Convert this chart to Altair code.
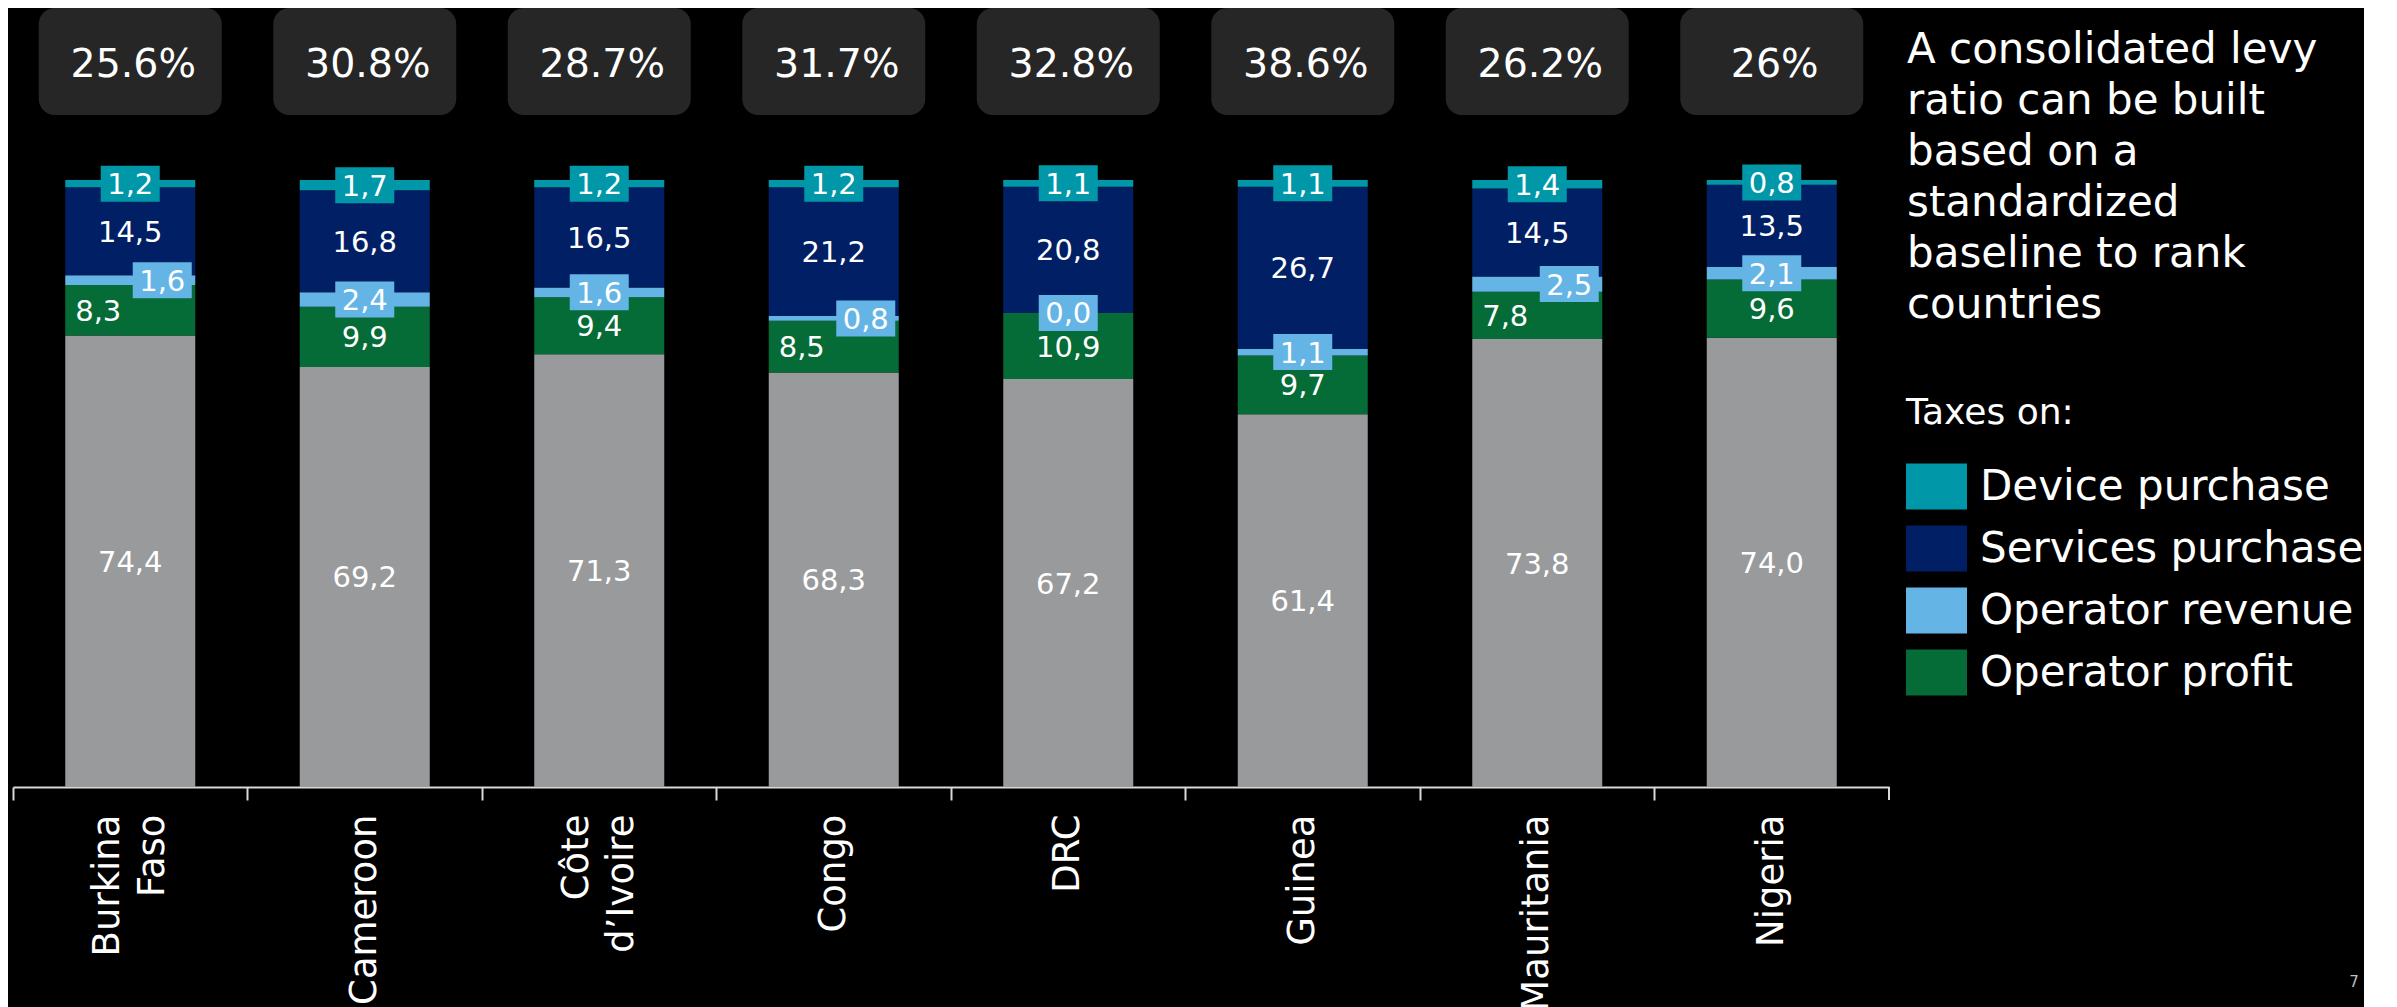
import altair as alt
import pandas as pd

# ---------------- data ----------------
COUNTRIES = ["Burkina Faso", "Cameroon", "Côte d’Ivoire", "Congo", "DRC", "Guinea", "Mauritania", "Nigeria"]
REST = [74.4, 69.2, 71.3, 68.3, 67.2, 61.4, 73.8, 74.0]
OPERATOR_PROFIT = [8.3, 9.9, 9.4, 8.5, 10.9, 9.7, 7.8, 9.6]
OPERATOR_REVENUE = [1.6, 2.4, 1.6, 0.8, 0.0, 1.1, 2.5, 2.1]
SERVICES_PURCHASE = [14.5, 16.8, 16.5, 21.2, 20.8, 26.7, 14.5, 13.5]
DEVICE_PURCHASE = [1.2, 1.7, 1.2, 1.2, 1.1, 1.1, 1.4, 0.8]
LEVY_RATIO = ["25.6%", "30.8%", "28.7%", "31.7%", "32.8%", "38.6%", "26.2%", "26%"]

SERIES = ["Rest", "Operator profit", "Operator revenue", "Services purchase", "Device purchase"]
SERIES_VALUES = [REST, OPERATOR_PROFIT, OPERATOR_REVENUE, SERVICES_PURCHASE, DEVICE_PURCHASE]
LEGEND_ORDER = ["Device purchase", "Services purchase", "Operator revenue", "Operator profit"]
BOXED_SERIES = ["Device purchase", "Operator revenue"]

PARAGRAPH = ["A consolidated levy", "ratio can be built", "based on a", "standardized",
             "baseline to rank", "countries"]
LEGEND_TITLE = "Taxes on:"
PAGE_NUMBER = "7"

# ---------------- styles ----------------
COLOR_MAP = {
    "Device purchase": "#0098A9",
    "Services purchase": "#001F65",
    "Operator revenue": "#64B5E6",
    "Operator profit": "#056B37",
    "Rest": "#999A9C",
}
# label nudges (direction: -1 left, +1 right)
NUDGE = {
    ("Burkina Faso", "Operator revenue"): 1, ("Burkina Faso", "Operator profit"): -1,
    ("Congo", "Operator revenue"): 1, ("Congo", "Operator profit"): -1,
    ("Mauritania", "Operator revenue"): 1, ("Mauritania", "Operator profit"): -1,
}
FONT = "DejaVu Sans"
PLOT_W = 1876
BAND = PLOT_W / len(COUNTRIES)
NUDGE_PX = 32
H = 778
YMAX = H / 6.07

rows = []
for i, c in enumerate(COUNTRIES):
    cum = 0.0
    for k, s in enumerate(SERIES):
        v = SERIES_VALUES[k][i]
        rows.append({
            "country": c, "series": s, "order": k,
            "y0": cum, "y1": cum + v, "mid": cum + v / 2,
            "label": f"{v:.1f}".replace(".", ","),
            "boxed": s in BOXED_SERIES,
            "nudge": NUDGE.get((c, s), 0),
        })
        cum += v
df = pd.DataFrame(rows)
df_top = pd.DataFrame({"country": COUNTRIES, "levy": LEVY_RATIO})

color_enc = alt.Color(
    "series:N",
    scale=alt.Scale(domain=list(COLOR_MAP.keys()), range=list(COLOR_MAP.values())),
    legend=alt.Legend(
        orient="none", legendX=1893, legendY=387, title=LEGEND_TITLE,
        titleFontSize=36, titleColor="#FFFFFF", titleFont=FONT, titleFontWeight="normal",
        titlePadding=24, labelFontSize=42, labelColor="#FFFFFF", labelFont=FONT,
        symbolType="M-1,-0.754H1V0.754H-1Z", symbolSize=3721, symbolStrokeWidth=0,
        symbolOpacity=1, labelOffset=13, rowPadding=8, values=LEGEND_ORDER,
        padding=0, labelLimit=0,
    ),
)

x_scale = alt.Scale(domain=COUNTRIES, range=[0, PLOT_W], paddingInner=0, paddingOuter=0)
x_axis = alt.Axis(
    title=None, bandPosition=0, labelAngle=-90, labelAlign="right", labelBaseline="middle",
    labelFontSize=37, labelFont=FONT, labelColor="#FFFFFF", labelLineHeight=45,
    labelPadding=14, tickSize=13, tickColor="#D9D9D9", tickWidth=2,
    domainColor="#D9D9D9", domainWidth=2, labelExpr="split(datum.label, ' ')",
    labelOffset={"condition": {"test": "indexof(datum.label, ' ') >= 0", "value": -22}, "value": 0},
    labelLimit=0, labelOverlap=False, grid=False,
)
y_scale = alt.Scale(domain=[0, YMAX], nice=False, zero=True)

base = alt.Chart(df)

bars = base.mark_bar(width=130).encode(
    x=alt.X("country:N", sort=COUNTRIES, scale=x_scale, axis=x_axis),
    y=alt.Y("y0:Q", scale=y_scale, axis=None),
    y2="y1:Q",
    color=color_enc,
)

layers = [bars]
for n in (-1, 0, 1):
    bp = 0.5 + n * NUDGE_PX / BAND
    sub = base.transform_filter(alt.datum.nudge == n)
    boxes = sub.transform_filter(alt.datum.boxed).mark_point(
        shape="M-1,-0.61H1V0.61H-1Z", size=3481, filled=True, opacity=1, strokeWidth=0
    ).encode(
        x=alt.X("country:N", sort=COUNTRIES, scale=x_scale, bandPosition=bp),
        y=alt.Y("mid:Q", scale=y_scale),
        color=color_enc,
    )
    texts = sub.mark_text(
        font=FONT, fontSize=29, color="#FFFFFF", baseline="alphabetic", align="center", dy=10.5
    ).encode(
        x=alt.X("country:N", sort=COUNTRIES, scale=x_scale, bandPosition=bp),
        y=alt.Y("mid:Q", scale=y_scale),
        text="label:N",
    )
    layers += [boxes, texts]

top_boxes = alt.Chart(df_top).mark_bar(width=183, cornerRadius=16, color="#262626").encode(
    x=alt.X("country:N", sort=COUNTRIES, scale=x_scale),
    y=alt.value(-1), y2=alt.value(106),
)
top_text = alt.Chart(df_top).mark_text(
    font=FONT, fontSize=39.5, color="#FFFFFF", baseline="alphabetic", align="center", dx=3
).encode(
    x=alt.X("country:N", sort=COUNTRIES, scale=x_scale),
    y=alt.value(68),
    text="levy:N",
)

anno = alt.Chart(pd.DataFrame({"a": [0]}))
end_tick = anno.mark_rule(color="#D9D9D9", strokeWidth=2).encode(
    x=alt.value(PLOT_W), y=alt.value(H), y2=alt.value(H + 13)
)
paragraph = anno.mark_text(
    text=PARAGRAPH, font=FONT, fontSize=42, lineHeight=51, color="#FFFFFF",
    align="left", baseline="alphabetic",
).encode(x=alt.value(1894), y=alt.value(54))
page_no = anno.mark_text(
    text=PAGE_NUMBER, font=FONT, fontSize=15, color="#BFBFBF", align="center", baseline="alphabetic"
).encode(x=alt.value(2341), y=alt.value(978))

chart = alt.layer(
    top_boxes, top_text, *layers, end_tick, paragraph, page_no
).properties(
    width=2350, height=H,
    padding={"left": 4, "top": 0, "right": 0, "bottom": 0},
    background="#000000",
).configure_view(stroke=None)

chart.save("out.html", embed_options={"renderer": "svg", "actions": False})
